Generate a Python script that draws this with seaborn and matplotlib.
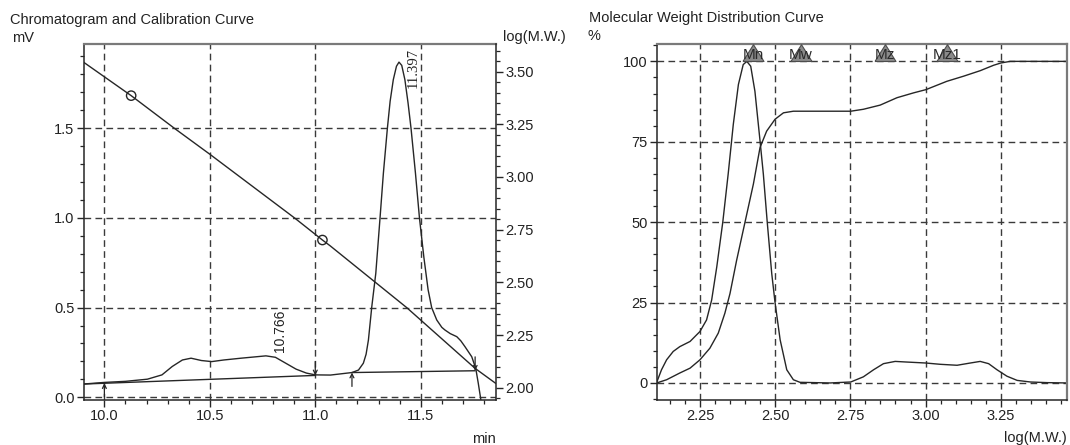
import matplotlib
matplotlib.use("Agg")
import matplotlib.pyplot as plt
from matplotlib.ticker import MultipleLocator, FormatStrFormatter
import seaborn as sns

# ---- chromatogram: retention time (min) vs detector signal (mV)
chrom_time = [9.902, 10.0, 10.1, 10.204, 10.273, 10.322, 10.370, 10.411, 10.460,
              10.509, 10.566, 10.648, 10.766, 10.811, 10.860, 10.909, 10.958, 11.0,
              11.072, 11.174, 11.205, 11.228, 11.241, 11.252, 11.268, 11.287, 11.307,
              11.323, 11.342, 11.355, 11.370, 11.385, 11.397, 11.410, 11.425, 11.440,
              11.454, 11.475, 11.494, 11.515, 11.535, 11.552, 11.576, 11.600, 11.615,
              11.640, 11.671, 11.690, 11.710, 11.742, 11.761, 11.773, 11.790]
chrom_mv = [0.074, 0.083, 0.089, 0.101, 0.125, 0.172, 0.208, 0.218, 0.205,
            0.199, 0.208, 0.218, 0.231, 0.223, 0.190, 0.157, 0.135, 0.125,
            0.124, 0.138, 0.152, 0.190, 0.240, 0.319, 0.505, 0.691, 0.998,
            1.249, 1.500, 1.650, 1.770, 1.845, 1.868, 1.850, 1.770, 1.640,
            1.500, 1.250, 1.000, 0.780, 0.600, 0.500, 0.431, 0.390, 0.375,
            0.355, 0.338, 0.315, 0.282, 0.226, 0.161, 0.078, -0.050]

# integration baselines
base1_time = [9.902, 11.0]
base1_mv = [0.074, 0.122]
base2_time = [11.174, 11.758]
base2_mv = [0.138, 0.148]

# peak start (+1, arrow from below) and peak end (-1, arrow from above) marks
mark_time = [10.0, 11.0, 11.174, 11.758]
mark_mv = [0.079, 0.122, 0.138, 0.148]
mark_dir = [1, -1, 1, -1]

# labelled peak tops
peak_times = [10.766, 11.397]
peak_mv = [0.231, 1.868]

# ---- calibration curve: retention time vs log(M.W.)
calib_time = [9.898, 10.127, 10.332, 10.500, 10.904, 11.034, 11.070, 11.434, 11.758, 11.857]
calib_logmw = [3.547, 3.386, 3.231, 3.108, 2.804, 2.701, 2.674, 2.380, 2.092, 2.020]
std_time = [10.127, 11.034]
std_logmw = [3.386, 2.701]

# ---- molecular weight distribution
mwd_logmw = [2.105, 2.121, 2.138, 2.160, 2.182, 2.216, 2.249, 2.271, 2.288, 2.305,
             2.325, 2.343, 2.360, 2.377, 2.393, 2.405, 2.418, 2.432, 2.449, 2.460,
             2.473, 2.488, 2.499, 2.516, 2.538, 2.560, 2.582, 2.682, 2.751, 2.793,
             2.827, 2.860, 2.899, 2.938, 3.001, 3.049, 3.105, 3.149, 3.182, 3.210,
             3.238, 3.271, 3.305, 3.349, 3.405, 3.471]
mwd_diff = [0.2, 4.1, 7.2, 9.8, 11.3, 12.9, 16.0, 19.6, 25.8, 36.1,
            50.0, 65.0, 80.4, 92.8, 99.0, 100.0, 98.5, 90.7, 75.3, 65.0,
            50.0, 34.0, 25.0, 13.4, 4.1, 1.0, 0.2, 0.0, 0.3, 1.9,
            4.1, 6.0, 6.7, 6.5, 6.2, 5.8, 5.5, 6.2, 6.7, 6.0,
            4.1, 2.1, 0.8, 0.3, 0.1, 0.0]

cum_logmw = [2.105, 2.138, 2.182, 2.216, 2.249, 2.282, 2.310, 2.332, 2.349, 2.371,
             2.399, 2.427, 2.449, 2.471, 2.499, 2.527, 2.560, 2.716, 2.751, 2.793,
             2.849, 2.905, 2.960, 3.001, 3.071, 3.127, 3.182, 3.227, 3.251, 3.282, 3.48]
cum_pct = [0.0, 1.0, 3.1, 4.6, 7.2, 10.8, 15.5, 21.7, 27.8, 38.1,
           50.0, 61.9, 73.2, 78.3, 82.0, 84.0, 84.5, 84.5, 84.5, 85.1,
           86.4, 88.7, 90.2, 91.2, 93.8, 95.4, 97.1, 98.8, 99.5, 100.0, 100.0]

avg_names = ["Mn", "Mw", "Mz", "Mz1"]
avg_logmw = [2.427, 2.584, 2.864, 3.073]

# ---- styling
sns.set_style("ticks")
plt.rcParams["font.family"] = ["Liberation Sans", "DejaVu Sans"]
plt.rcParams["text.color"] = "#222222"

INK = "#262626"
GRID = dict(color="#3a3a3a", linewidth=1.0, linestyle=(0, (4.8, 3.1)))
FS = 10.5

W, H = 1070, 445


def frac(l, t, r, b):
    return [l / W, 1 - b / H, (r - l) / W, (b - t) / H]


fig = plt.figure(figsize=(W / 100, H / 100), dpi=100)
ax = fig.add_axes(frac(83.5, 44, 496, 400))
ax_mw = fig.add_axes(frac(656.7, 44, 1067, 400))


def style_axes(a):
    for s in ("left", "bottom"):
        a.spines[s].set_color(INK)
        a.spines[s].set_linewidth(1.1)
    for s in ("top", "right"):
        a.spines[s].set_color("#7a7a7a")
        a.spines[s].set_linewidth(1.6)
    a.tick_params(which="major", length=5, width=1.0, color=INK, labelsize=FS,
                  labelcolor="#222222", pad=1.5)
    a.tick_params(which="minor", length=3, width=0.9, color=INK)
    a.set_axisbelow(True)


# ================= chromatogram + calibration =================
style_axes(ax)
ax.set_xlim(9.901, 11.857)
ax.set_ylim(-0.015, 1.969)
ax.xaxis.set_major_locator(MultipleLocator(0.5))
ax.xaxis.set_minor_locator(MultipleLocator(0.1))
ax.xaxis.set_major_formatter(FormatStrFormatter("%.1f"))
ax.yaxis.set_major_locator(MultipleLocator(0.5))
ax.yaxis.set_minor_locator(MultipleLocator(0.1))
ax.yaxis.set_major_formatter(FormatStrFormatter("%.1f"))
ax.grid(True, which="major", **GRID)

sns.lineplot(x=chrom_time, y=chrom_mv, ax=ax, color=INK, linewidth=1.0,
             estimator=None, sort=False)
sns.lineplot(x=base1_time, y=base1_mv, ax=ax, color=INK, linewidth=1.0,
             estimator=None, sort=False)
sns.lineplot(x=base2_time, y=base2_mv, ax=ax, color=INK, linewidth=1.0,
             estimator=None, sort=False)

arrow_kw = dict(arrowstyle="->", color=INK, lw=0.9, shrinkA=0, shrinkB=0,
                mutation_scale=7)
for t, v, d in zip(mark_time, mark_mv, mark_dir):
    ax.annotate("", xy=(t, v), xytext=(0, -10 * d),
                textcoords="offset points", arrowprops=arrow_kw)

ax.annotate(f"{peak_times[0]:.3f}", xy=(peak_times[0], peak_mv[0]), xytext=(9.9, 3),
            textcoords="offset points", rotation=90, ha="center", va="bottom",
            fontsize=10, color="#222222")
ax.annotate(f"{peak_times[1]:.3f}", xy=(peak_times[1], peak_mv[1]), xytext=(10.5, 9.9),
            textcoords="offset points", rotation=90, ha="center", va="top",
            fontsize=10.5, color="#222222", family=["Liberation Serif", "DejaVu Serif"])

ax2 = ax.twinx()
ax2.set_position(ax.get_position())
ax2.set_ylim(1.942, 3.631)
ax2.yaxis.set_major_locator(MultipleLocator(0.25))
ax2.yaxis.set_minor_locator(MultipleLocator(0.05))
ax2.yaxis.set_major_formatter(FormatStrFormatter("%.2f"))
for s in ("left", "top", "bottom"):
    ax2.spines[s].set_visible(False)
ax2.spines["right"].set_color(INK)
ax2.spines["right"].set_linewidth(1.1)
ax.spines["right"].set_visible(False)
ax2.tick_params(which="major", length=5, width=1.0, color=INK, labelsize=FS,
                labelcolor="#222222", pad=1.5)
ax2.tick_params(which="minor", length=3, width=0.9, color=INK)
ax2.grid(False)

sns.lineplot(x=calib_time, y=calib_logmw, ax=ax2, color=INK, linewidth=1.0,
             estimator=None, sort=False)
ax2.scatter(std_time, std_logmw, s=45, facecolors="none", edgecolors=INK,
            linewidths=1.0, zorder=5)
ax.set_xlabel("")
ax.set_ylabel("")
ax2.set_ylabel("")

# ================= molecular weight distribution =================
style_axes(ax_mw)
ax_mw.set_xlim(2.105, 3.471)
ax_mw.set_ylim(-5.3, 105.4)
ax_mw.xaxis.set_major_locator(MultipleLocator(0.25))
ax_mw.xaxis.set_minor_locator(MultipleLocator(0.05))
ax_mw.xaxis.set_major_formatter(FormatStrFormatter("%.2f"))
ax_mw.yaxis.set_major_locator(MultipleLocator(25))
ax_mw.yaxis.set_minor_locator(MultipleLocator(5))
ax_mw.grid(True, which="major", **GRID)

sns.lineplot(x=mwd_logmw, y=mwd_diff, ax=ax_mw, color=INK, linewidth=1.0,
             estimator=None, sort=False)
sns.lineplot(x=cum_logmw, y=cum_pct, ax=ax_mw, color=INK, linewidth=1.0,
             estimator=None, sort=False)

# averages marked with triangles standing on the 100 % line
tri = [(-1.0, 0.0), (1.0, 0.0), (0.0, 1.6), (-1.0, 0.0)]
ax_mw.scatter(avg_logmw, [100] * len(avg_logmw), marker=tri, s=24.2 ** 2,
              facecolor="#8a8a8a", edgecolor="#4d4d4d", linewidths=0.8,
              zorder=6, clip_on=False)
for name, xv in zip(avg_names, avg_logmw):
    ax_mw.annotate(name, xy=(xv, 100), xytext=(0, 1.8), textcoords="offset points",
                   ha="center", va="baseline", fontsize=11, color="#2a2a2a", zorder=7)
ax_mw.set_xlabel("")
ax_mw.set_ylabel("")

# ================= titles and unit labels =================
def ftext(x, y, s, **kw):
    fig.text(x / W, 1 - y / H, s, fontsize=FS, color="#222222", va="baseline", **kw)


ftext(10, 24, "Chromatogram and Calibration Curve")
ftext(12, 42, "mV")
ftext(503, 41, "log(M.W.)")
ftext(589, 22, "Molecular Weight Distribution Curve")
ftext(588, 40, "%")
ftext(496, 443, "min", ha="right")
ftext(1067, 442, "log(M.W.)", ha="right")

fig.savefig("out.png", dpi=100)
